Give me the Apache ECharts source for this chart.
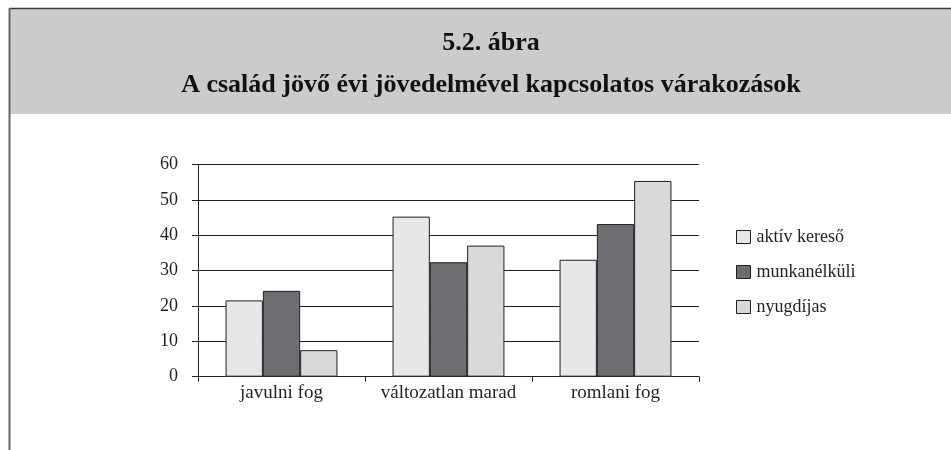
<!DOCTYPE html>
<html>
<head>
<meta charset="utf-8">
<script src="https://cdn.jsdelivr.net/npm/echarts@6/dist/echarts.min.js"></script>
<style>
  html, body { margin: 0; padding: 0; background: #fff; }
  #chart { width: 951px; height: 450px; }
</style>
</head>
<body>
<div id="chart"></div>
<script>
// adatok (leolvasva az ábráról)
const categories = ["javulni fog", "változatlan marad", "romlani fog"];
const seriesNames = ["aktív kereső", "munkanélküli", "nyugdíjas"];
const aktivKereso = [21.6, 45.3, 33.1];
const munkanelkuli = [24.3, 32.4, 43.2];
const nyugdijas = [7.5, 37.1, 55.4];
const yTicks = { min: 0, max: 60, step: 10 };

const serif = "'Liberation Serif', 'DejaVu Serif', serif";
const ink = "#231f20";
const fills = ["#e6e7e8", "#6d6e71", "#d8d9da"];

function bar(name, values, color) {
  return {
    name: name,
    type: "bar",
    barGap: 0,
    barCategoryGap: "33%",
    data: values,
    itemStyle: { color: color, borderColor: ink, borderWidth: 1 }
  };
}

let chart = echarts.init(document.getElementById("chart"), null, { renderer: "canvas" });

let option = {
  animation: false,
  backgroundColor: "#ffffff",
  graphic: [
    {
      type: "rect",
      shape: { x: 10, y: 9, width: 941, height: 105 },
      style: { fill: "#cbcbcb" },
      z: -10
    },
    {
      type: "line",
      shape: { x1: 9, y1: 8.5, x2: 951, y2: 8.5 },
      style: { stroke: "#3a3a3a", lineWidth: 1.5 }
    },
    {
      type: "line",
      shape: { x1: 9.5, y1: 8, x2: 9.5, y2: 450 },
      style: { stroke: "#666666", lineWidth: 2 }
    }
  ],
  title: {
    text: "5.2. ábra\nA család jövő évi jövedelmével kapcsolatos várakozások",
    left: 486,
    top: 17,
    textAlign: "center",
    textStyle: {
      fontFamily: serif,
      fontSize: 26,
      fontWeight: "bold",
      color: "#111111",
      lineHeight: 42
    }
  },
  legend: {
    orient: "vertical",
    left: 731,
    top: 223,
    itemWidth: 14,
    itemHeight: 13,
    itemGap: 17,
    icon: "rect",
    itemStyle: { borderColor: ink, borderWidth: 1 },
    textStyle: { fontFamily: serif, fontSize: 18, color: ink, padding: [0, 0, 0, 1] },
    data: seriesNames
  },
  grid: {
    left: 198,
    right: 252,
    top: 164.7,
    bottom: 73.3
  },
  xAxis: {
    type: "category",
    data: categories,
    axisLine: { lineStyle: { color: ink, width: 1 } },
    axisTick: { show: true, interval: 0, length: 5, lineStyle: { color: ink } },
    axisLabel: { interval: 0, fontFamily: serif, fontSize: 19, color: ink, margin: 7 }
  },
  yAxis: {
    type: "value",
    min: yTicks.min,
    max: yTicks.max,
    interval: yTicks.step,
    axisLine: { show: true, lineStyle: { color: ink, width: 1 } },
    axisTick: { show: true, length: 6, lineStyle: { color: ink } },
    axisLabel: { fontFamily: serif, fontSize: 18, color: ink, margin: 20 },
    splitLine: { show: true, lineStyle: { color: ink, width: 1 } }
  },
  series: [
    bar(seriesNames[0], aktivKereso, fills[0]),
    bar(seriesNames[1], munkanelkuli, fills[1]),
    bar(seriesNames[2], nyugdijas, fills[2])
  ]
};

chart.setOption(option);
</script>
</body>
</html>
